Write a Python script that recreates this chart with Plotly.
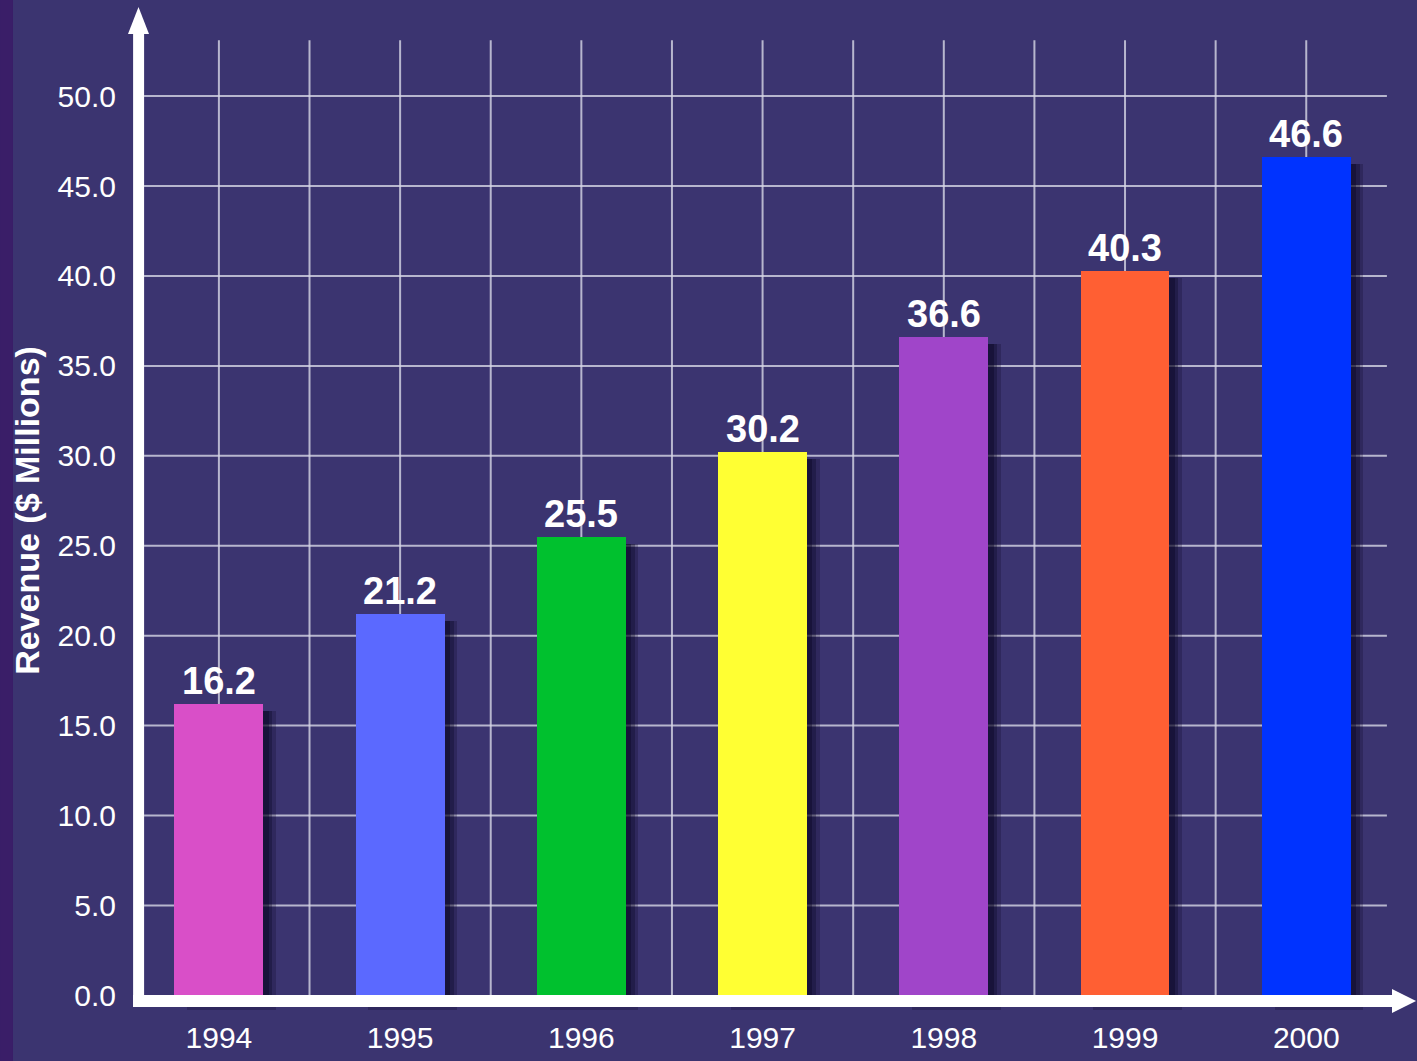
import plotly.graph_objects as go

# ---- data ----
years = ["1994", "1995", "1996", "1997", "1998", "1999", "2000"]
revenue = [16.2, 21.2, 25.5, 30.2, 36.6, 40.3, 46.6]
bar_colors = ["#d94fc8", "#5b69ff", "#00c12e", "#ffff33", "#a045c9", "#ff5f33", "#0033ff"]
y_ticks = [0, 5, 10, 15, 20, 25, 30, 35, 40, 45, 50]
y_tick_labels = ["0.0", "5.0", "10.0", "15.0", "20.0", "25.0", "30.0", "35.0", "40.0", "45.0", "50.0"]
y_title = "Revenue ($ Millions)"

BG = "#3b3470"
STRIP = "#3a1e68"
GRID = "rgba(215,215,230,0.8)"
FONT = "Liberation Sans, Arial, sans-serif"

xs = list(range(len(years)))
BAR_W = 0.49

X_RANGE = [-0.5457, 6.6111]
Y_RANGE = [-1.2, 55.12]

fig = go.Figure()

# drop shadows (soft, layered)
for dx, dy, a in [(0.07, 0.8, 0.25), (0.05, 0.6, 0.32), (0.03, 0.4, 0.4)]:
    fig.add_trace(go.Bar(
        x=xs, y=[v + dy - 0.4 for v in revenue], base=-dy,
        width=BAR_W, offset=-BAR_W / 2 + dx,
        marker=dict(color=f"rgba(10,5,35,{a})", line=dict(width=0)),
        hoverinfo="skip", showlegend=False,
    ))

fig.add_trace(go.Bar(
    x=xs, y=revenue, width=BAR_W,
    marker=dict(color=bar_colors, line=dict(width=0)),
    showlegend=False,
))

shapes = []
# left dark strip
shapes.append(dict(type="rect", xref="paper", yref="paper",
                   x0=-0.0925, x1=-0.0825, y0=-0.1, y1=1.1,
                   fillcolor=STRIP, line=dict(width=0), layer="below"))
# vertical gridlines (category centers and midpoints)
for i in range(13):
    gx = i * 0.5
    shapes.append(dict(type="line", xref="x", yref="y", x0=gx, x1=gx, y0=0, y1=53.1,
                       line=dict(color=GRID, width=2), layer="below"))
# horizontal gridlines
for v in y_ticks[1:]:
    shapes.append(dict(type="line", xref="x", yref="y", x0=-0.413, x1=6.445, y0=v, y1=v,
                       line=dict(color=GRID, width=2), layer="below"))

# axis lines with arrow heads
shapes.append(dict(type="rect", xref="x", yref="y", x0=-0.4734, x1=-0.4127, y0=-0.645, y1=53.6,
                   fillcolor="white", line=dict(width=0), layer="above"))
shapes.append(dict(type="path", xref="x", yref="y",
                   path="M -0.5016 53.45 L -0.4436 54.95 L -0.3857 53.45 Z",
                   fillcolor="white", line=dict(width=0), layer="above"))
shapes.append(dict(type="rect", xref="x", yref="y", x0=-0.4734, x1=6.489, y0=-0.645, y1=0.022,
                   fillcolor="white", line=dict(width=0), layer="above"))
shapes.append(dict(type="path", xref="x", yref="y",
                   path="M 6.473 0.356 L 6.606 -0.311 L 6.473 -0.979 Z",
                   fillcolor="white", line=dict(width=0), layer="above"))

annotations = []
for x, v in zip(xs, revenue):
    annotations.append(dict(x=x, y=v, xref="x", yref="y", text=f"{v:.1f}",
                            showarrow=False, yanchor="bottom", yshift=0,
                            font=dict(family=FONT, size=38, color="white", weight="bold")))

fig.update_layout(
    width=1417, height=1061,
    margin=dict(l=120, r=0, t=4, b=44, autoexpand=False),
    paper_bgcolor=BG, plot_bgcolor=BG,
    barmode="overlay", bargap=0,
    shapes=shapes, annotations=annotations,
    font=dict(family=FONT, color="white"),
    xaxis=dict(range=X_RANGE, tickvals=xs, ticktext=years, showgrid=False, zeroline=False,
               showline=False, ticks="", tickfont=dict(size=30, color="white"),
               ticklabelstandoff=0, fixedrange=True),
    yaxis=dict(range=Y_RANGE, tickvals=y_ticks, ticktext=y_tick_labels, showgrid=False,
               zeroline=False, showline=False, ticks="", tickfont=dict(size=30, color="white"),
               ticklabelstandoff=3, fixedrange=True, automargin=False,
               title=dict(text=y_title, standoff=7,
                          font=dict(family=FONT, size=34, color="white", weight="bold"))),
)

fig.write_html("out.html", config={"displayModeBar": False},
               post_script="document.body.style.margin='0';document.body.style.overflow='hidden';")
